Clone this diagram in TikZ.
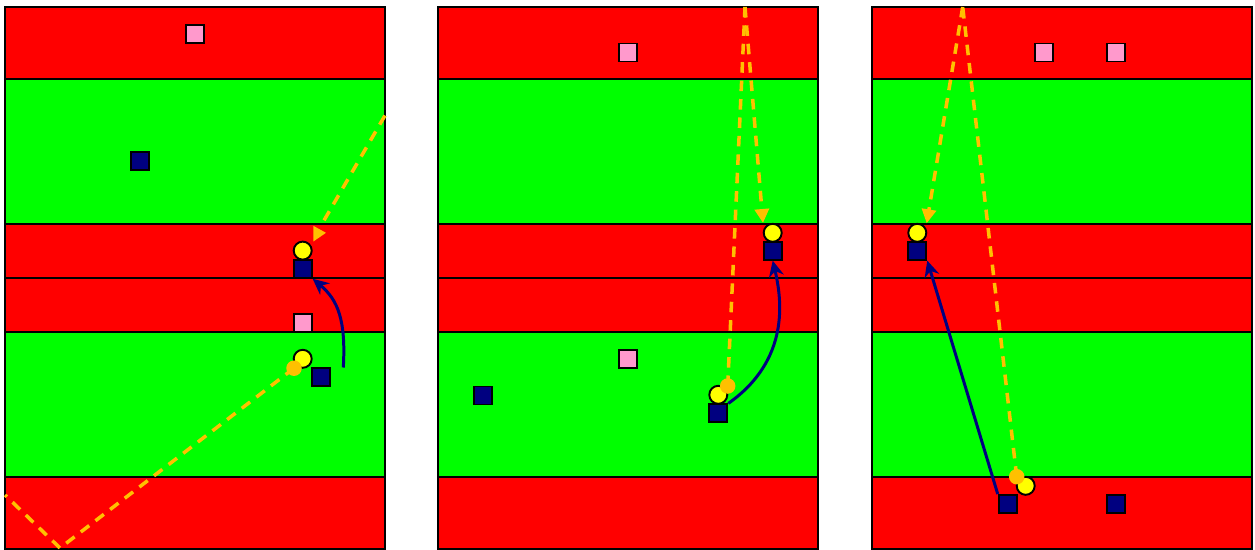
\documentclass[tikz,border=0pt]{standalone}
\usetikzlibrary{arrows.meta}
\definecolor{fieldred}{RGB}{255,0,0}
\definecolor{fieldgreen}{RGB}{0,255,0}
\definecolor{playernavy}{RGB}{0,0,128}
\definecolor{conepink}{RGB}{255,153,204}
\definecolor{ballyellow}{RGB}{255,255,0}
\definecolor{passorange}{RGB}{255,192,0}
\begin{document}
\begin{tikzpicture}[
					x=0.02cm, y=-0.02cm,
					band/.style={draw=black, line width=1.1pt},
					player/.style={rectangle, minimum size=0.36cm, inner sep=0pt, draw=black, line width=1.1pt, fill=playernavy},
					marker/.style={player, fill=conepink},
					ball/.style={circle, minimum size=0.36cm, inner sep=0pt, draw=black, line width=1.1pt, fill=ballyellow},
					spot/.style={circle, minimum size=0.31cm, inner sep=0pt, fill=passorange},
					pass/.style={passorange, line width=2pt, dash pattern=on 6pt off 4.5pt},
					passarrow/.style={pass, -{Triangle[length=2.8mm, width=2.8mm]}},
					run/.style={playernavy, line width=1.7pt, -{Stealth[length=3.2mm, width=3mm]}}
					]
					\useasboundingbox (0,0) rectangle (1255,549);
					\foreach \px in {5,438,872}
						\foreach \ya/\yb/\c in {7/79/fieldred, 79/224/fieldgreen, 224/278/fieldred, 278/332/fieldred, 332/477/fieldgreen, 477/549/fieldred}
							\draw [band, fill=\c] (\px,\ya) rectangle (\px+380,\yb);
					
					\node (p1conea) [marker] at (195,34.3) {};
					\node (p1def) [player] at (140.3,161) {};
					\node (p1balla) [ball] at (302.7,250.6) {};
					\node (p1recv) [player] at (302.7,268.8) {};
					\node (p1coneb) [marker] at (302.7,322.7) {};
					\node (p1ballb) [ball] at (302.7,358.8) {};
					\node (p1spot) [spot] at (294,368.2) {};
					\node (p1pass) [player] at (321,377.3) {};
					\coordinate (p1runstart) at (343.3,367.5);
					\coordinate (p1wallr) at (385,115.5);
					\coordinate (p1wallend) at (323.3,221.6);
					\coordinate (p1bounce) at (60,548);
					\coordinate (p1walll) at (5,495);
					
					\node (p2conea) [marker] at (628.3,52.5) {};
					\node (p2balla) [ball] at (772.7,232.8) {};
					\node (p2recv) [player] at (772.7,250.6) {};
					\node (p2coneb) [marker] at (628.3,358.8) {};
					\node (p2def) [player] at (483.3,395.5) {};
					\node (p2ballb) [ball] at (718.3,394.8) {};
					\node (p2pass) [player] at (718.3,413.4) {};
					\node (p2spot) [spot] at (727.7,386) {};
					\coordinate (p2top) at (745,7);
					\coordinate (p2end) at (763,223);
					
					\node (p3conea) [marker] at (1043.7,52.5) {};
					\node (p3coneb) [marker] at (1116,52.5) {};
					\node (p3balla) [ball] at (917.3,232.8) {};
					\node (p3recv) [player] at (917.3,250.6) {};
					\node (p3pass) [player] at (1007.7,504) {};
					\node (p3def) [player] at (1116,504) {};
					\node (p3ballb) [ball] at (1025.7,485.8) {};
					\node (p3spot) [spot] at (1016.7,476.7) {};
					\coordinate (p3top) at (962.7,7);
					\coordinate (p3end) at (926.7,223.3);
					
					\draw [pass] (p1wallr) -- (p1wallend);
					\fill [passorange] (313.3,225.8) -- (326,232.8) -- (313.3,241.5) -- cycle;
					\draw [pass] (p1spot.center) -- (p1bounce) -- (p1walll);
					\draw [run] (p1runstart) .. controls (346,320) and (338,300) .. (p1recv.south east);
					
					\draw [pass] (p2spot.center) -- (p2top);
					\draw [passarrow] (p2top) -- (p2end);
					\draw [run] (p2pass.north east) .. controls (790,360) and (782,300) .. (p2recv.south);
					
					\draw [pass] (p3spot.center) -- (p3top);
					\draw [passarrow] (p3top) -- (p3end);
					\draw [run] (p3pass.north west) -- (p3recv.south east);
				\end{tikzpicture}
\end{document}
